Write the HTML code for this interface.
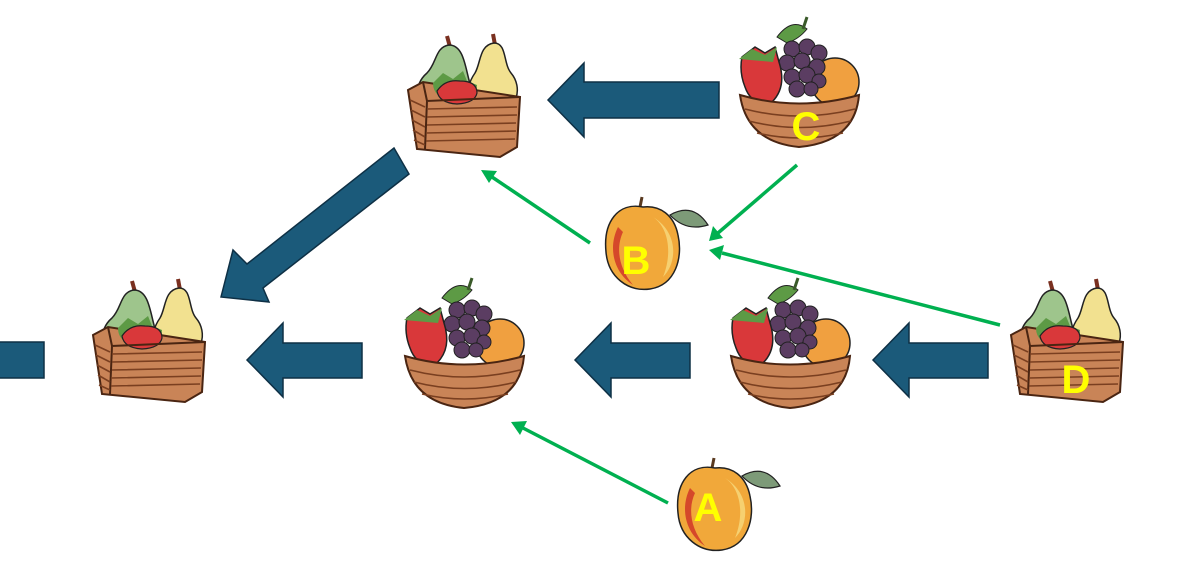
<!DOCTYPE html>
<html><head><meta charset="utf-8"><style>
html,body{margin:0;padding:0;background:#fff;}
svg{display:block}
text{font-family:"Liberation Sans",Arial,sans-serif;font-weight:bold;fill:#ffff00;font-size:40px;text-anchor:middle}
</style></head><body>
<svg width="1182" height="565" viewBox="0 0 1182 565">
<defs>
<g id="pb">
  <path d="M45,12 L42,1" stroke="#7a3020" stroke-width="4"/>
  <path d="M90,10 L88,-1" stroke="#7a3020" stroke-width="4"/>
  <path d="M44,10 C30,12 32,28 22,38 C8,50 8,72 30,78 C55,82 70,68 64,45 C60,30 58,10 44,10Z" fill="#9ec58c" stroke="#222" stroke-width="1.5"/>
  <path d="M89,8 C74,10 76,28 70,38 C58,55 60,78 85,78 C114,78 118,52 106,38 C98,28 102,8 89,8Z" fill="#f2e190" stroke="#222" stroke-width="1.5"/>
  <path d="M3,55 L18,47 L115,62 L112,112 L95,122 L12,114 Z" fill="#c98457" stroke="#4a2512" stroke-width="2"/>
  <path d="M28,48 L38,38 L48,44 L58,36 L62,46 L72,50 Q72,64 50,66 Q28,64 28,48Z" fill="#5d9a45"/>
  <path d="M32,56 Q40,44 55,46 Q72,46 72,58 Q70,68 52,69 Q34,68 32,56Z" fill="#d9383a" stroke="#222" stroke-width="1.2"/>
  <path d="M18,47 L22,66 L115,62 M22,66 L20,114" stroke="#4a2512" stroke-width="2" fill="none"/>
  <g stroke="#7a3f20" stroke-width="1.6" fill="none">
    <path d="M22,74 L112,72 M22,82 L112,80 M22,90 L111,88 M21,98 L111,96 M21,106 L110,104"/>
    <path d="M5,65 L20,72 M6,75 L20,82 M7,85 L20,92 M8,95 L20,102 M9,105 L20,110"/>
  </g>
</g>
<g id="mb">
  <path d="M40,20 Q55,0 70,12 Q62,22 50,26Z" fill="#5d9a45" stroke="#222"/>
  <path d="M66,12 L70,0" stroke="#3a5a2a" stroke-width="3"/>
  <circle cx="98" cy="65" r="24" fill="#f0a040" stroke="#222" stroke-width="1.5"/>
  <g fill="#5b3d62" stroke="#222" stroke-width="1">
    <circle cx="55" cy="32" r="8"/><circle cx="70" cy="30" r="8"/><circle cx="82" cy="36" r="8"/>
    <circle cx="50" cy="46" r="8"/><circle cx="65" cy="44" r="8"/><circle cx="80" cy="50" r="8"/>
    <circle cx="55" cy="60" r="8"/><circle cx="70" cy="58" r="8"/><circle cx="82" cy="64" r="7"/>
    <circle cx="60" cy="72" r="8"/><circle cx="74" cy="72" r="7"/>
  </g>
  <path d="M5,40 L18,30 L28,36 L38,30 L42,45 Q50,70 35,85 Q15,90 8,70 Q2,55 5,40Z" fill="#d9383a" stroke="#222" stroke-width="1.5"/>
  <path d="M2,42 L15,32 L28,38 L40,30 L36,45 Z" fill="#5d9a45"/>
  <path d="M3,78 Q62,95 122,78 Q118,125 62,130 Q10,125 3,78Z" fill="#c98457" stroke="#4a2512" stroke-width="2"/>
  <g stroke="#7a3f20" stroke-width="1.6" fill="none">
    <path d="M8,92 Q62,106 118,92 M12,104 Q62,117 114,104 M20,116 Q62,126 106,116"/>
  </g>
</g>
<g id="pe">
  <path d="M72,18 Q95,5 110,28 Q88,35 72,18Z" fill="#7d9a78" stroke="#222" stroke-width="1.2"/>
  <path d="M42,10 L44,0" stroke="#5a3a20" stroke-width="3"/>
  <path d="M45,10 C20,5 5,25 8,55 C10,80 30,95 52,92 C78,88 85,60 80,38 C76,18 62,8 45,10Z" fill="#f1a83a" stroke="#222" stroke-width="1.5"/>
  <path d="M20,30 C10,50 15,75 35,88 C20,70 18,50 25,35Z" fill="#d5482a"/>
  <path d="M55,20 C70,30 75,55 65,80 C80,65 80,35 55,20Z" fill="#f6d070"/>
</g>
</defs>

<g fill="#1b5a7a" stroke="#0e3045" stroke-width="1.5">
  <polygon points="548,100 584,63 584,82 719,82 719,118 584,118 584,137"/>
  <polygon points="247,360 283,323 283,343 362,343 362,378 283,378 283,397"/>
  <polygon points="575,360 611,323 611,343 690,343 690,378 611,378 611,397"/>
  <polygon points="873,360 909,323 909,343 988,343 988,378 909,378 909,397"/>
  <rect x="-2" y="342" width="46" height="36"/>
  <polygon points="221,297 233,250 247,264 394,148 409,174 263,288 269,302"/>
</g>

<use href="#pb" x="405" y="35"/>
<use href="#pb" x="90" y="280"/>
<use href="#pb" x="1008" y="280"/>
<use href="#mb" x="737" y="17"/>
<use href="#mb" x="402" y="278"/>
<use href="#mb" x="728" y="278"/>
<use href="#pe" x="598" y="197"/>
<use href="#pe" x="670" y="458"/>

<g stroke="#00b050" stroke-width="3.5" fill="#00b050">
  <line x1="590" y1="243" x2="492" y2="177"/><polygon points="481,170 497,171 489,183" stroke="none"/>
  <line x1="797" y1="165" x2="718" y2="233"/><polygon points="709,241 713,226 723,238" stroke="none"/>
  <line x1="1000" y1="325" x2="722" y2="253"/><polygon points="709,250 724,245 720,260" stroke="none"/>
  <line x1="668" y1="503" x2="523" y2="428"/><polygon points="511,422 527,421 520,435" stroke="none"/>
</g>

<text x="806" y="140">C</text>
<text x="636" y="274">B</text>
<text x="1076" y="393">D</text>
<text x="708" y="521">A</text>
</svg>
</body></html>
